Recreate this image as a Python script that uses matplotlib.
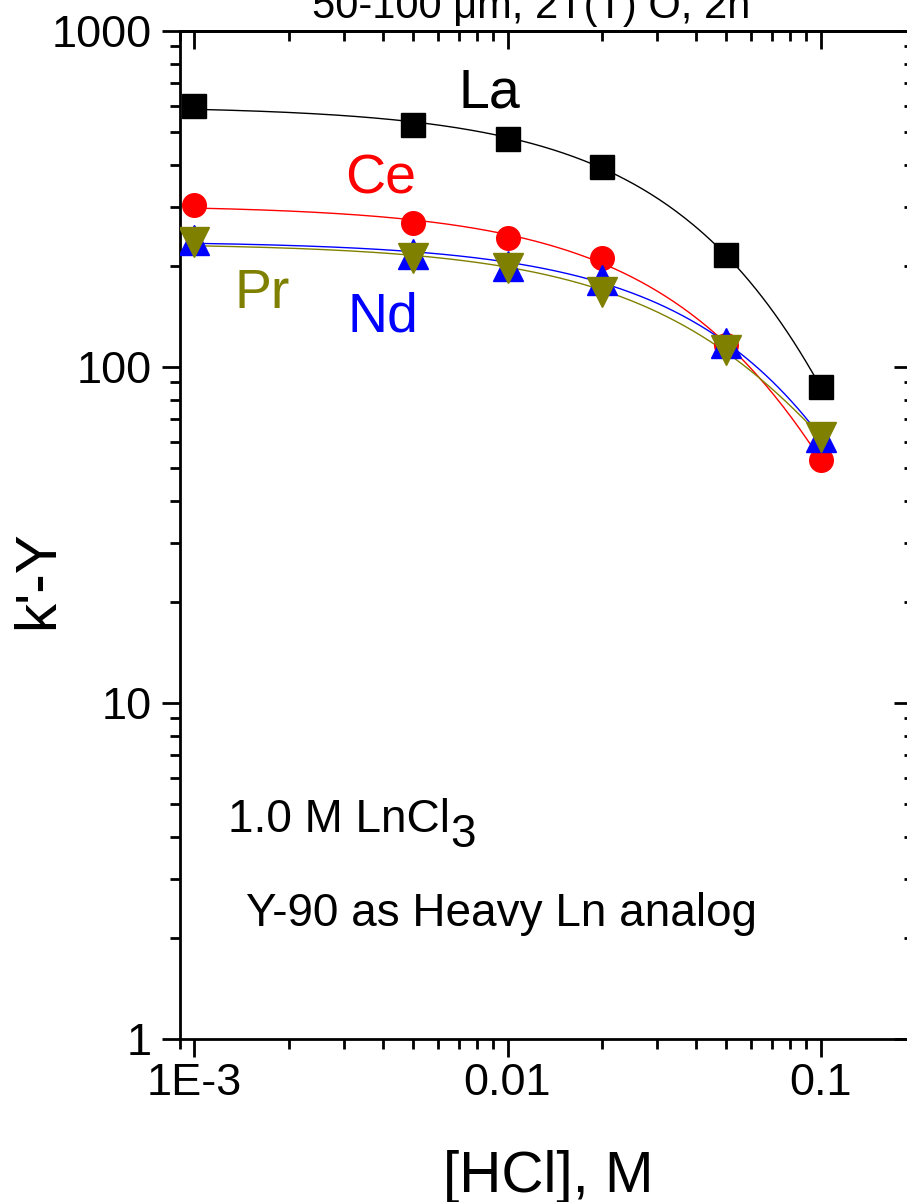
import numpy as np
import matplotlib
matplotlib.use("Agg")
import matplotlib.pyplot as plt
from matplotlib.ticker import FixedLocator, FixedFormatter, LogLocator, NullFormatter

plt.rcParams['font.family'] = ['Liberation Sans', 'DejaVu Sans']

# ---- data ----
hcl = [0.001, 0.005, 0.01, 0.02, 0.05, 0.1]
k_La = [598, 525, 478, 393, 215, 87]
k_Ce = [303, 268, 242, 211, 116, 53]
k_Nd = [239, 217, 200, 181, 118, 62]
k_Pr = [236, 211, 197, 167, 112, 62]

series_names = ['La', 'Ce', 'Nd', 'Pr']
series_vals = [k_La, k_Ce, k_Nd, k_Pr]
colors = ['#000000', '#FF0000', '#0000FF', '#808000']
markers = ['s', 'o', '^', 'v']
msizes = [17, 17, 21, 22]

xticks = [0.001, 0.01, 0.1]
xticklabels = ['1E-3', '0.01', '0.1']
yticks = [1, 10, 100, 1000]
yticklabels = ['1', '10', '100', '1000']

W, H = 907, 1202
fig = plt.figure(figsize=(W / 100, H / 100), dpi=100)
ax = fig.add_axes([180 / W, (H - 1039) / H, (915 - 180) / W, (1039 - 31) / H])
ax.set_xscale('log')
ax.set_yscale('log')
ax.set_xlim(9e-4, 0.2)
ax.set_ylim(1, 1000)

xs = np.logspace(np.log10(hcl[0]), np.log10(hcl[-1]), 300)
for name, vals, c, m, ms in zip(series_names, series_vals, colors, markers, msizes):
    coef = np.polyfit(hcl, np.log10(vals), 2)
    ax.plot(xs, 10 ** np.polyval(coef, xs), color=c, lw=1.0, zorder=2)
for name, vals, c, m, ms in zip(series_names, series_vals, colors, markers, msizes):
    ax.plot(hcl, vals, linestyle='none', marker=m, ms=ms, color=c, mec=c, zorder=3)

for s in ax.spines.values():
    s.set_linewidth(2.0)

ax.xaxis.set_major_locator(FixedLocator(xticks))
ax.xaxis.set_major_formatter(FixedFormatter(xticklabels))
ax.xaxis.set_minor_locator(LogLocator(base=10, subs=np.arange(2, 10)))
ax.xaxis.set_minor_formatter(NullFormatter())
ax.yaxis.set_major_locator(FixedLocator(yticks))
ax.yaxis.set_major_formatter(FixedFormatter(yticklabels))
ax.yaxis.set_minor_locator(LogLocator(base=10, subs=np.arange(2, 10)))
ax.yaxis.set_minor_formatter(NullFormatter())

ax.tick_params(which='both', direction='out', bottom=True, left=True, top=False, right=False,
               labelsize=32.5, width=2.0)
ax.tick_params(which='major', length=13, pad=4)
ax.tick_params(which='minor', length=7)
ax.tick_params(axis='y', which='major', pad=7)

# mirrored inward ticks on top/right
axt = ax.secondary_xaxis('top')
axt.xaxis.set_major_locator(FixedLocator(xticks))
axt.xaxis.set_minor_locator(LogLocator(base=10, subs=np.arange(2, 10)))
axt.xaxis.set_major_formatter(NullFormatter())
axt.xaxis.set_minor_formatter(NullFormatter())
axt.tick_params(which='both', direction='in', width=2.0)
axt.tick_params(which='major', length=13)
axt.tick_params(which='minor', length=7)
axt.spines['top'].set_linewidth(2.0)
axr = ax.secondary_yaxis('right')
axr.yaxis.set_major_locator(FixedLocator(yticks))
axr.yaxis.set_minor_locator(LogLocator(base=10, subs=np.arange(2, 10)))
axr.yaxis.set_major_formatter(NullFormatter())
axr.yaxis.set_minor_formatter(NullFormatter())
axr.tick_params(which='both', direction='in', width=2.0)
axr.tick_params(which='major', length=15)
axr.tick_params(which='minor', length=8)


def ftext(x, y, s, **kw):
    return fig.text(x / W, 1 - y / H, s, **kw)


# axis labels
ftext(548, 1192, '[HCl], M', fontsize=42, ha='center', va='baseline')
ftext(38, 580, "k'-Y", fontsize=42, ha='center', va='center', rotation=90)

# series labels
ftext(489, 107, 'La', fontsize=40, color=colors[0], ha='center', va='baseline')
ftext(381, 193, 'Ce', fontsize=40, color=colors[1], ha='center', va='baseline')
ftext(262, 308, 'Pr', fontsize=40, color=colors[3], ha='center', va='baseline')
ftext(383, 332, 'Nd', fontsize=40, color=colors[2], ha='center', va='baseline')

# annotations
t1 = ftext(228, 832, '1.0 M LnCl', fontsize=33, ha='left', va='baseline')
fig.canvas.draw()
bb = t1.get_window_extent(renderer=fig.canvas.get_renderer())
fig.text(bb.x1 / W, 1 - 847 / H, '3', fontsize=33, ha='left', va='baseline')
ftext(246, 926, 'Y-90 as Heavy Ln analog', fontsize=33, ha='left', va='baseline')

# title (partly cut at top, as in the reference)
ftext(531, 18, '50-100 \u03bcm, 2T(T) O, 2h', fontsize=30, ha='center', va='baseline')

fig.savefig('out.png', dpi=100)
